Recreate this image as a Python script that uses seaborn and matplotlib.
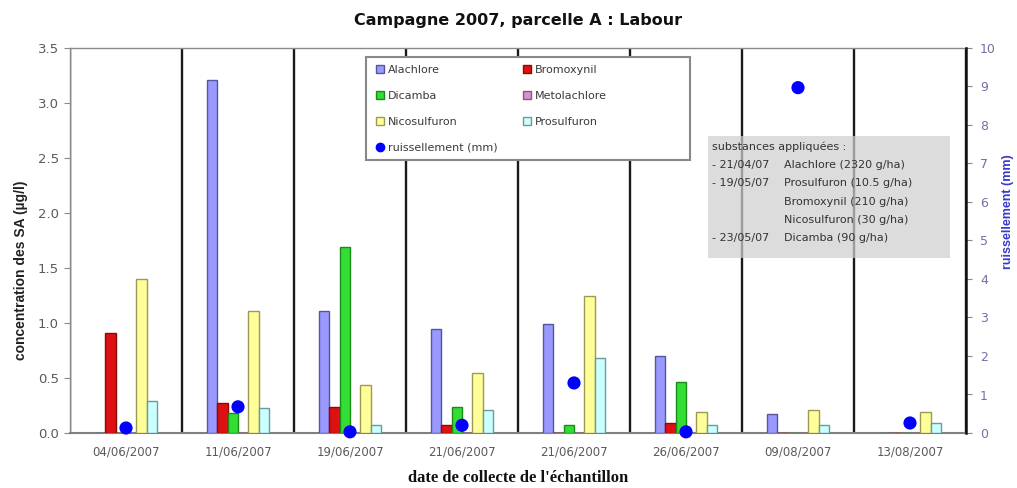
import numpy as np
import pandas as pd
import matplotlib
matplotlib.use("Agg")
import matplotlib.pyplot as plt
import seaborn as sns
from matplotlib.patches import Rectangle, Patch
from matplotlib.lines import Line2D

# Sampling dates
dates = ["04/06/2007", "11/06/2007", "19/06/2007", "21/06/2007",
         "21/06/2007 ", "26/06/2007", "09/08/2007", "13/08/2007"]
date_labels = ["04/06/2007", "11/06/2007", "19/06/2007", "21/06/2007",
               "21/06/2007", "26/06/2007", "09/08/2007", "13/08/2007"]

# Concentrations (µg/l)
alachlore = [0.00, 3.21, 1.11, 0.95, 0.99, 0.70, 0.17, 0.00]
bromoxynil = [0.91, 0.27, 0.24, 0.07, 0.00, 0.09, 0.00, 0.00]
dicamba = [0.00, 0.18, 1.69, 0.24, 0.07, 0.46, 0.00, 0.00]
metolachlore = [0.00, 0.00, 0.00, 0.00, 0.00, 0.00, 0.00, 0.00]
nicosulfuron = [1.40, 1.11, 0.44, 0.55, 1.25, 0.19, 0.21, 0.19]
prosulfuron = [0.29, 0.23, 0.07, 0.21, 0.68, 0.07, 0.07, 0.09]

# Runoff (mm)
runoff = [0.13, 0.68, 0.03, 0.20, 1.30, 0.03, 8.97, 0.26]

substances = ["Alachlore", "Bromoxynil", "Dicamba", "Metolachlore",
              "Nicosulfuron", "Prosulfuron"]
fills = ["#9999FF", "#DD1111", "#33DD33", "#CC99CC", "#FFFF99", "#CCFFFF"]
edges = ["#55559A", "#8A0A0A", "#1A8A1A", "#994D80", "#9A9A55", "#6A9A9A"]

df = pd.DataFrame({
    "date": np.repeat(dates, len(substances)),
    "substance": substances * len(dates),
    "value": np.array([alachlore, bromoxynil, dicamba, metolachlore,
                       nicosulfuron, prosulfuron]).T.ravel(),
})

sns.set_style("white")
plt.rcParams["font.family"] = ["DejaVu Sans"]

W, H = 1017, 488
fig = plt.figure(figsize=(W / 100, H / 100), dpi=100)
ax = fig.add_axes([70 / W, 1 - 433 / H, 896 / W, 385 / H])

sns.barplot(data=df, x="date", y="value", hue="substance",
            hue_order=substances, order=dates, palette=fills, saturation=1,
            width=0.55, linewidth=1, legend=False, ax=ax, zorder=3)
for cont, ec in zip(ax.containers, edges):
    for bar in cont:
        bar.set_edgecolor(ec)

ax.set_xlim(-0.5, len(dates) - 0.5)
ax.set_ylim(0, 3.5)
yt = np.arange(0, 3.51, 0.5)
ax.set_yticks(yt)
ax.set_yticklabels([f"{v:.1f}" for v in yt])
ax.set_xticks(range(len(dates)))
ax.set_xticklabels(date_labels)
ax.set_xticks(np.arange(-0.5, len(dates), 1), minor=True)
ax.grid(False)
ax.grid(which="minor", axis="x", color="#1a1a1a", lw=1.7, zorder=1)
ax.tick_params(axis="x", which="major", length=0, pad=9, labelsize=8.5,
               labelcolor="#5a5a5a")
ax.tick_params(axis="x", which="minor", length=5, color="#888888",
               direction="out", width=1)
ax.tick_params(axis="y", length=4, color="#888888", direction="out",
               labelsize=9.5, labelcolor="#5a5a5a", pad=4)
for s in ["left", "top"]:
    ax.spines[s].set_color("#8a8a8a")
    ax.spines[s].set_linewidth(1)
ax.spines["bottom"].set_color("#808080")
ax.spines["bottom"].set_linewidth(1.5)
ax.spines["right"].set_visible(False)
ax.set_xlabel("")
ax.set_ylabel("")
fig.text(518 / W, 1 - 478 / H, "date de collecte de l'échantillon",
         family="Liberation Serif", fontweight="bold", fontsize=12,
         ha="center", va="center", color="#111111")
fig.text(21 / W, 1 - 270 / H, "concentration des SA (µg/l)", rotation=90,
         ha="center", va="center", fontsize=10, fontweight="bold",
         family="Liberation Sans", color="#222222")

# Runoff on the secondary axis
ax2 = ax.twinx()
sns.scatterplot(x=np.arange(len(dates)), y=runoff, ax=ax2, color="#0000FF",
                s=90, edgecolor="none", zorder=6, clip_on=False, legend=False)
ax2.set_ylim(0, 10)
ax2.set_yticks(range(0, 11))
ax2.tick_params(axis="y", length=4, color="#888888", direction="out",
                labelsize=9, labelcolor="#7070A8", pad=6)
for s in ["left", "top", "bottom"]:
    ax2.spines[s].set_visible(False)
ax2.spines["right"].set_color("#111111")
ax2.spines["right"].set_linewidth(1.8)
ax2.set_ylabel("")
fig.text(1008 / W, 1 - 212 / H, "ruissellement (mm)", rotation=90,
         ha="center", va="center", fontsize=9, fontweight="bold",
         family="Liberation Sans", color="#3a3acc")

fig.text(518 / W, 1 - 20 / H, "Campagne 2007, parcelle A : Labour",
         ha="center", va="center", fontsize=11.5, fontweight="bold",
         color="#111111")


def ax_xy(px, py):
    return (px - 70) / 896, (433 - py) / 385


# Legend frame and entries
lx0, ly0 = ax_xy(366, 160)
lx1, ly1 = ax_xy(690, 57)
ax2.add_patch(Rectangle((lx0, ly0), lx1 - lx0, ly1 - ly0,
                        transform=ax2.transAxes, facecolor="white",
                        edgecolor="#888888", lw=1.5, zorder=7))
h = {name: Patch(facecolor=f, edgecolor=e, lw=1)
     for name, f, e in zip(substances, fills, edges)}
dot = Line2D([], [], marker="o", ls="none", color="#0000FF", markersize=6)
handles = [h["Alachlore"], h["Dicamba"], h["Nicosulfuron"], dot,
           h["Bromoxynil"], h["Metolachlore"], h["Prosulfuron"]]
labels = ["Alachlore", "Dicamba", "Nicosulfuron", "ruissellement (mm)",
          "Bromoxynil", "Metolachlore", "Prosulfuron"]
leg = ax2.legend(handles, labels, ncol=2, loc="upper left",
                 bbox_to_anchor=ax_xy(376, 65), frameon=False,
                 fontsize=8, borderpad=0, borderaxespad=0,
                 handlelength=0.75, handleheight=0.75, handletextpad=0.3,
                 labelspacing=1.43, columnspacing=2.3)
for t in leg.get_texts():
    t.set_color("#3a3a3a")
leg.set_zorder(10)

# Applied substances note
x0, y0 = ax_xy(708, 258)
x1, y1 = ax_xy(950, 136)
ax2.add_patch(Rectangle((x0, y0), x1 - x0, y1 - y0, transform=ax2.transAxes,
                        facecolor="#cfcfcf", alpha=0.72, edgecolor="none",
                        zorder=8))
note_dates = ["substances appliquées :", "- 21/04/07", "- 19/05/07", "", "",
              "- 23/05/07"]
note_products = ["", "Alachlore (2320 g/ha)", "Prosulfuron (10.5 g/ha)",
                 "Bromoxynil (210 g/ha)", "Nicosulfuron (30 g/ha)",
                 "Dicamba (90 g/ha)"]
for i, (d, p) in enumerate(zip(note_dates, note_products)):
    yy = 147 + i * 18.2
    if d:
        ax2.text(*ax_xy(712, yy), d, transform=ax2.transAxes, fontsize=8,
                 va="center", ha="left", color="#333333", zorder=9)
    if p:
        ax2.text(*ax_xy(784, yy), p, transform=ax2.transAxes, fontsize=8,
                 va="center", ha="left", color="#333333", zorder=9)

fig.savefig("out.png", dpi=100)
